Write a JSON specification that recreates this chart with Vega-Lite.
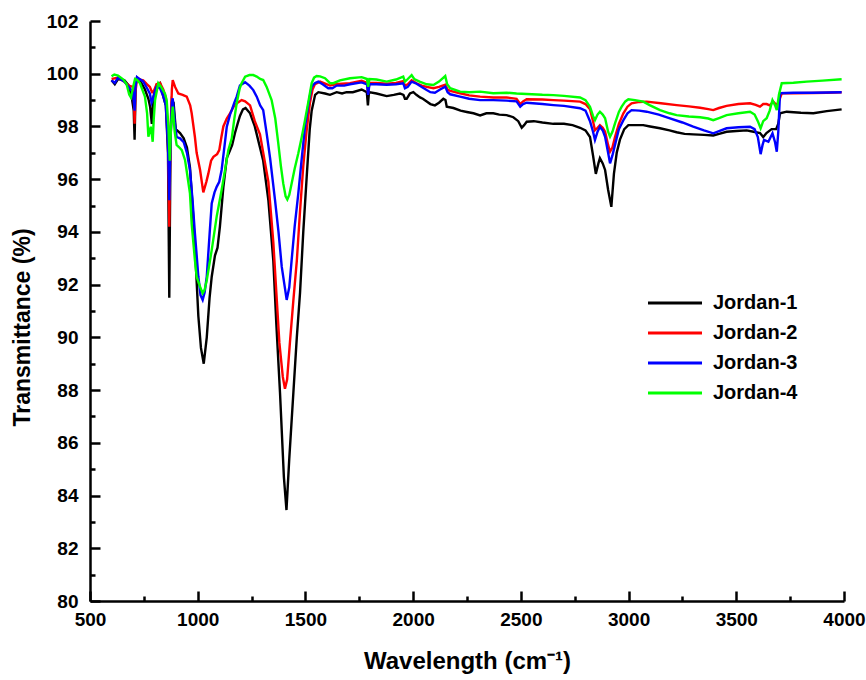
{
"$schema":"https://vega.github.io/schema/vega-lite/v6.json",
"width":754,"height":580,
"autosize":{"type":"none"},
"padding":{"left":90,"top":21,"right":22,"bottom":79},
"config":{"view":{"stroke":null},"font":"Liberation Sans",
"axis":{"domainColor":"#000","domainWidth":2.5,"tickColor":"#000","tickWidth":2.5,"grid":false,"labelFont":"Liberation Sans","labelFontWeight":"bold","labelFontSize":19,"labelColor":"#000","titleFont":"Liberation Sans","titleFontWeight":"bold","titleFontSize":22,"titleColor":"#000"},
"legend":{"labelFont":"Liberation Sans"}},
"datasets":{
"j1":[{"w":600,"t":99.75},{"w":615,"t":99.6},{"w":630,"t":99.8},{"w":660,"t":99.75},{"w":680,"t":99.55},{"w":694,"t":99.1},{"w":703,"t":98.6},{"w":707,"t":97.5},{"w":712,"t":99.6},{"w":718,"t":99.85},{"w":735,"t":99.7},{"w":755,"t":99.4},{"w":771,"t":99.05},{"w":779,"t":98.75},{"w":787,"t":98.1},{"w":794,"t":99.1},{"w":810,"t":99.6},{"w":825,"t":99.65},{"w":840,"t":99.15},{"w":852,"t":98.8},{"w":862,"t":97.0},{"w":868,"t":91.5},{"w":874,"t":97.5},{"w":880,"t":99.0},{"w":888,"t":98.9},{"w":898,"t":97.9},{"w":918,"t":97.75},{"w":935,"t":97.55},{"w":950,"t":97.2},{"w":964,"t":96.45},{"w":976,"t":95.0},{"w":987,"t":93.45},{"w":1003,"t":90.8},{"w":1015,"t":89.6},{"w":1028,"t":89.0},{"w":1042,"t":90.0},{"w":1055,"t":91.5},{"w":1065,"t":92.3},{"w":1080,"t":93.1},{"w":1092,"t":93.4},{"w":1103,"t":94.2},{"w":1119,"t":95.7},{"w":1135,"t":96.8},{"w":1150,"t":97.1},{"w":1160,"t":97.3},{"w":1173,"t":97.75},{"w":1185,"t":98.1},{"w":1196,"t":98.4},{"w":1210,"t":98.65},{"w":1222,"t":98.7},{"w":1243,"t":98.5},{"w":1265,"t":98.0},{"w":1289,"t":97.2},{"w":1304,"t":96.7},{"w":1328,"t":95.2},{"w":1351,"t":92.9},{"w":1365,"t":90.5},{"w":1382,"t":87.9},{"w":1400,"t":84.7},{"w":1412,"t":83.45},{"w":1425,"t":85.4},{"w":1444,"t":87.9},{"w":1460,"t":90.0},{"w":1475,"t":91.7},{"w":1490,"t":94.0},{"w":1506,"t":96.1},{"w":1520,"t":97.9},{"w":1529,"t":98.6},{"w":1545,"t":99.2},{"w":1560,"t":99.3},{"w":1591,"t":99.25},{"w":1614,"t":99.2},{"w":1645,"t":99.3},{"w":1670,"t":99.25},{"w":1691,"t":99.3},{"w":1720,"t":99.3},{"w":1761,"t":99.4},{"w":1785,"t":99.3},{"w":1790,"t":98.8},{"w":1795,"t":99.3},{"w":1830,"t":99.25},{"w":1877,"t":99.15},{"w":1910,"t":99.2},{"w":1939,"t":99.25},{"w":1955,"t":99.2},{"w":1962,"t":99.05},{"w":1970,"t":99.05},{"w":1985,"t":99.25},{"w":2001,"t":99.3},{"w":2015,"t":99.2},{"w":2032,"t":99.1},{"w":2045,"t":99.05},{"w":2063,"t":98.95},{"w":2080,"t":98.85},{"w":2101,"t":98.8},{"w":2120,"t":98.9},{"w":2140,"t":99.05},{"w":2150,"t":99.0},{"w":2156,"t":98.75},{"w":2187,"t":98.7},{"w":2220,"t":98.6},{"w":2249,"t":98.55},{"w":2280,"t":98.5},{"w":2311,"t":98.42},{"w":2340,"t":98.5},{"w":2372,"t":98.5},{"w":2400,"t":98.45},{"w":2434,"t":98.43},{"w":2465,"t":98.35},{"w":2488,"t":98.2},{"w":2504,"t":97.95},{"w":2515,"t":98.05},{"w":2527,"t":98.18},{"w":2560,"t":98.2},{"w":2600,"t":98.15},{"w":2651,"t":98.1},{"w":2700,"t":98.1},{"w":2740,"t":98.05},{"w":2775,"t":97.95},{"w":2800,"t":97.85},{"w":2821,"t":97.6},{"w":2835,"t":96.9},{"w":2848,"t":96.2},{"w":2860,"t":96.6},{"w":2867,"t":96.8},{"w":2880,"t":96.6},{"w":2891,"t":96.35},{"w":2905,"t":95.6},{"w":2920,"t":94.95},{"w":2932,"t":96.2},{"w":2945,"t":97.0},{"w":2960,"t":97.5},{"w":2980,"t":97.9},{"w":2999,"t":98.05},{"w":3030,"t":98.05},{"w":3068,"t":98.05},{"w":3100,"t":98.0},{"w":3146,"t":97.93},{"w":3190,"t":97.85},{"w":3223,"t":97.78},{"w":3260,"t":97.72},{"w":3300,"t":97.7},{"w":3350,"t":97.68},{"w":3393,"t":97.66},{"w":3420,"t":97.72},{"w":3455,"t":97.8},{"w":3500,"t":97.83},{"w":3548,"t":97.85},{"w":3580,"t":97.8},{"w":3610,"t":97.75},{"w":3625,"t":97.6},{"w":3640,"t":97.75},{"w":3664,"t":97.9},{"w":3685,"t":97.9},{"w":3695,"t":98.1},{"w":3703,"t":98.5},{"w":3734,"t":98.56},{"w":3800,"t":98.52},{"w":3858,"t":98.5},{"w":3920,"t":98.58},{"w":3989,"t":98.65}],
"j2":[{"w":600,"t":99.8},{"w":630,"t":99.85},{"w":660,"t":99.7},{"w":680,"t":99.55},{"w":699,"t":99.5},{"w":704,"t":99.0},{"w":707,"t":98.1},{"w":711,"t":99.3},{"w":718,"t":99.8},{"w":747,"t":99.75},{"w":765,"t":99.6},{"w":778,"t":99.5},{"w":788,"t":99.3},{"w":794,"t":99.3},{"w":809,"t":99.6},{"w":825,"t":99.65},{"w":840,"t":99.4},{"w":852,"t":99.1},{"w":862,"t":97.5},{"w":868,"t":94.2},{"w":873,"t":97.5},{"w":880,"t":99.4},{"w":884,"t":99.76},{"w":895,"t":99.5},{"w":910,"t":99.25},{"w":930,"t":99.2},{"w":949,"t":99.13},{"w":965,"t":98.8},{"w":972,"t":98.5},{"w":987,"t":97.6},{"w":995,"t":97.0},{"w":1011,"t":96.35},{"w":1026,"t":95.5},{"w":1040,"t":95.9},{"w":1049,"t":96.2},{"w":1062,"t":96.7},{"w":1073,"t":96.85},{"w":1090,"t":96.95},{"w":1100,"t":97.1},{"w":1110,"t":97.6},{"w":1119,"t":98.0},{"w":1135,"t":98.3},{"w":1150,"t":98.5},{"w":1170,"t":98.8},{"w":1185,"t":98.9},{"w":1204,"t":99.0},{"w":1220,"t":98.95},{"w":1243,"t":98.8},{"w":1265,"t":98.2},{"w":1289,"t":97.7},{"w":1304,"t":97.0},{"w":1328,"t":95.9},{"w":1351,"t":93.6},{"w":1365,"t":91.7},{"w":1379,"t":89.8},{"w":1395,"t":88.5},{"w":1405,"t":88.05},{"w":1415,"t":88.4},{"w":1428,"t":89.8},{"w":1444,"t":91.4},{"w":1460,"t":92.9},{"w":1475,"t":94.8},{"w":1490,"t":96.5},{"w":1505,"t":97.8},{"w":1521,"t":98.9},{"w":1533,"t":99.4},{"w":1544,"t":99.6},{"w":1568,"t":99.7},{"w":1583,"t":99.65},{"w":1614,"t":99.55},{"w":1640,"t":99.6},{"w":1670,"t":99.62},{"w":1707,"t":99.64},{"w":1761,"t":99.73},{"w":1786,"t":99.65},{"w":1791,"t":99.25},{"w":1797,"t":99.65},{"w":1830,"t":99.65},{"w":1877,"t":99.62},{"w":1920,"t":99.65},{"w":1954,"t":99.72},{"w":1962,"t":99.55},{"w":1975,"t":99.6},{"w":1993,"t":99.75},{"w":2016,"t":99.64},{"w":2040,"t":99.55},{"w":2063,"t":99.5},{"w":2094,"t":99.45},{"w":2120,"t":99.5},{"w":2149,"t":99.58},{"w":2160,"t":99.4},{"w":2172,"t":99.35},{"w":2218,"t":99.26},{"w":2260,"t":99.18},{"w":2311,"t":99.13},{"w":2372,"t":99.1},{"w":2434,"t":99.1},{"w":2480,"t":99.05},{"w":2497,"t":98.85},{"w":2510,"t":98.95},{"w":2527,"t":99.03},{"w":2600,"t":99.02},{"w":2651,"t":99.0},{"w":2700,"t":98.98},{"w":2775,"t":98.94},{"w":2800,"t":98.85},{"w":2821,"t":98.65},{"w":2835,"t":98.2},{"w":2844,"t":97.86},{"w":2856,"t":97.95},{"w":2867,"t":98.05},{"w":2880,"t":97.95},{"w":2891,"t":97.8},{"w":2905,"t":97.3},{"w":2914,"t":97.04},{"w":2925,"t":97.2},{"w":2937,"t":97.6},{"w":2955,"t":98.1},{"w":2976,"t":98.5},{"w":2995,"t":98.75},{"w":3014,"t":98.88},{"w":3050,"t":98.93},{"w":3084,"t":98.94},{"w":3150,"t":98.88},{"w":3223,"t":98.81},{"w":3280,"t":98.76},{"w":3332,"t":98.71},{"w":3370,"t":98.66},{"w":3393,"t":98.62},{"w":3420,"t":98.7},{"w":3455,"t":98.78},{"w":3510,"t":98.85},{"w":3564,"t":98.88},{"w":3590,"t":98.82},{"w":3610,"t":98.75},{"w":3625,"t":98.85},{"w":3641,"t":98.85},{"w":3655,"t":98.8},{"w":3672,"t":98.94},{"w":3688,"t":98.8},{"w":3700,"t":99.0},{"w":3711,"t":99.26},{"w":3765,"t":99.26},{"w":3850,"t":99.27},{"w":3920,"t":99.28},{"w":3989,"t":99.3}],
"j3":[{"w":600,"t":99.75},{"w":615,"t":99.65},{"w":630,"t":99.85},{"w":660,"t":99.7},{"w":680,"t":99.5},{"w":699,"t":99.3},{"w":704,"t":98.9},{"w":707,"t":98.6},{"w":711,"t":99.5},{"w":718,"t":99.87},{"w":747,"t":99.7},{"w":765,"t":99.45},{"w":778,"t":99.24},{"w":786,"t":98.9},{"w":791,"t":99.0},{"w":800,"t":99.3},{"w":809,"t":99.5},{"w":825,"t":99.45},{"w":840,"t":99.15},{"w":852,"t":98.8},{"w":862,"t":97.3},{"w":868,"t":95.2},{"w":873,"t":97.3},{"w":880,"t":98.9},{"w":884,"t":99.07},{"w":893,"t":98.2},{"w":902,"t":97.6},{"w":918,"t":97.55},{"w":935,"t":97.4},{"w":950,"t":97.0},{"w":964,"t":96.35},{"w":976,"t":95.2},{"w":987,"t":93.95},{"w":1003,"t":92.3},{"w":1013,"t":91.6},{"w":1023,"t":91.42},{"w":1032,"t":91.7},{"w":1042,"t":92.3},{"w":1055,"t":93.9},{"w":1065,"t":95.08},{"w":1078,"t":95.5},{"w":1088,"t":95.71},{"w":1100,"t":95.9},{"w":1111,"t":96.35},{"w":1125,"t":97.3},{"w":1135,"t":97.99},{"w":1150,"t":98.45},{"w":1158,"t":98.62},{"w":1170,"t":98.9},{"w":1181,"t":99.13},{"w":1196,"t":99.55},{"w":1220,"t":99.68},{"w":1240,"t":99.55},{"w":1258,"t":99.38},{"w":1274,"t":99.13},{"w":1290,"t":98.8},{"w":1304,"t":98.62},{"w":1320,"t":97.74},{"w":1336,"t":96.8},{"w":1359,"t":95.2},{"w":1375,"t":94.0},{"w":1390,"t":92.68},{"w":1413,"t":91.42},{"w":1425,"t":91.9},{"w":1436,"t":92.93},{"w":1450,"t":94.2},{"w":1467,"t":95.46},{"w":1483,"t":96.8},{"w":1498,"t":97.99},{"w":1515,"t":98.9},{"w":1529,"t":99.51},{"w":1545,"t":99.65},{"w":1560,"t":99.7},{"w":1580,"t":99.6},{"w":1606,"t":99.45},{"w":1625,"t":99.45},{"w":1645,"t":99.55},{"w":1680,"t":99.55},{"w":1707,"t":99.6},{"w":1761,"t":99.67},{"w":1786,"t":99.6},{"w":1791,"t":99.2},{"w":1797,"t":99.6},{"w":1830,"t":99.6},{"w":1877,"t":99.58},{"w":1920,"t":99.6},{"w":1954,"t":99.64},{"w":1962,"t":99.45},{"w":1975,"t":99.5},{"w":1993,"t":99.7},{"w":2016,"t":99.62},{"w":2040,"t":99.5},{"w":2063,"t":99.38},{"w":2080,"t":99.3},{"w":2101,"t":99.28},{"w":2125,"t":99.4},{"w":2149,"t":99.51},{"w":2160,"t":99.3},{"w":2172,"t":99.22},{"w":2218,"t":99.13},{"w":2260,"t":99.05},{"w":2311,"t":99.0},{"w":2372,"t":99.0},{"w":2434,"t":98.98},{"w":2480,"t":98.95},{"w":2497,"t":98.75},{"w":2510,"t":98.85},{"w":2527,"t":98.9},{"w":2600,"t":98.85},{"w":2651,"t":98.81},{"w":2700,"t":98.78},{"w":2775,"t":98.69},{"w":2800,"t":98.6},{"w":2821,"t":98.2},{"w":2835,"t":97.8},{"w":2844,"t":97.49},{"w":2856,"t":97.8},{"w":2867,"t":97.99},{"w":2880,"t":97.85},{"w":2891,"t":97.61},{"w":2905,"t":97.0},{"w":2914,"t":96.6},{"w":2925,"t":96.9},{"w":2937,"t":97.3},{"w":2955,"t":97.9},{"w":2976,"t":98.24},{"w":2995,"t":98.5},{"w":3014,"t":98.62},{"w":3050,"t":98.6},{"w":3084,"t":98.56},{"w":3140,"t":98.45},{"w":3192,"t":98.31},{"w":3250,"t":98.15},{"w":3300,"t":97.99},{"w":3350,"t":97.85},{"w":3393,"t":97.74},{"w":3420,"t":97.82},{"w":3455,"t":97.93},{"w":3510,"t":97.97},{"w":3564,"t":97.99},{"w":3585,"t":97.9},{"w":3600,"t":97.6},{"w":3613,"t":96.95},{"w":3622,"t":97.3},{"w":3629,"t":97.49},{"w":3649,"t":97.42},{"w":3668,"t":97.74},{"w":3680,"t":97.4},{"w":3688,"t":97.04},{"w":3695,"t":97.8},{"w":3703,"t":99.26},{"w":3765,"t":99.28},{"w":3850,"t":99.28},{"w":3920,"t":99.29},{"w":3989,"t":99.3}],
"j4":[{"w":600,"t":99.9},{"w":613,"t":99.97},{"w":630,"t":99.93},{"w":655,"t":99.78},{"w":670,"t":99.6},{"w":682,"t":99.21},{"w":690,"t":99.1},{"w":700,"t":99.5},{"w":709,"t":99.8},{"w":718,"t":99.77},{"w":732,"t":99.64},{"w":755,"t":99.13},{"w":765,"t":98.5},{"w":771,"t":97.61},{"w":777,"t":97.8},{"w":782,"t":97.99},{"w":787,"t":97.7},{"w":791,"t":97.42},{"w":796,"t":98.3},{"w":802,"t":99.0},{"w":817,"t":99.64},{"w":830,"t":99.5},{"w":848,"t":99.24},{"w":856,"t":99.0},{"w":864,"t":98.0},{"w":870,"t":96.7},{"w":876,"t":98.0},{"w":884,"t":98.75},{"w":893,"t":97.8},{"w":902,"t":97.3},{"w":915,"t":97.2},{"w":926,"t":97.1},{"w":941,"t":96.73},{"w":949,"t":96.3},{"w":964,"t":95.46},{"w":972,"t":94.3},{"w":987,"t":92.93},{"w":995,"t":92.3},{"w":1011,"t":91.92},{"w":1023,"t":91.67},{"w":1032,"t":91.8},{"w":1042,"t":92.17},{"w":1065,"t":93.31},{"w":1088,"t":94.58},{"w":1111,"t":95.59},{"w":1128,"t":96.4},{"w":1142,"t":97.1},{"w":1158,"t":97.55},{"w":1170,"t":98.3},{"w":1181,"t":98.88},{"w":1195,"t":99.45},{"w":1204,"t":99.64},{"w":1220,"t":99.89},{"w":1240,"t":99.95},{"w":1258,"t":99.95},{"w":1274,"t":99.89},{"w":1290,"t":99.8},{"w":1304,"t":99.76},{"w":1320,"t":99.5},{"w":1343,"t":99.0},{"w":1360,"t":98.3},{"w":1374,"t":97.36},{"w":1386,"t":96.5},{"w":1397,"t":95.84},{"w":1408,"t":95.35},{"w":1416,"t":95.23},{"w":1425,"t":95.4},{"w":1436,"t":95.84},{"w":1450,"t":96.4},{"w":1467,"t":96.98},{"w":1483,"t":97.6},{"w":1498,"t":98.24},{"w":1515,"t":99.0},{"w":1529,"t":99.64},{"w":1540,"t":99.85},{"w":1552,"t":99.91},{"w":1568,"t":99.9},{"w":1591,"t":99.83},{"w":1614,"t":99.64},{"w":1630,"t":99.64},{"w":1660,"t":99.75},{"w":1707,"t":99.83},{"w":1761,"t":99.87},{"w":1786,"t":99.8},{"w":1791,"t":99.5},{"w":1797,"t":99.8},{"w":1830,"t":99.78},{"w":1877,"t":99.7},{"w":1920,"t":99.78},{"w":1954,"t":99.89},{"w":1962,"t":99.7},{"w":1975,"t":99.8},{"w":1993,"t":99.95},{"w":2005,"t":99.8},{"w":2030,"t":99.7},{"w":2063,"t":99.6},{"w":2094,"t":99.57},{"w":2120,"t":99.7},{"w":2149,"t":99.91},{"w":2158,"t":99.6},{"w":2172,"t":99.45},{"w":2218,"t":99.32},{"w":2260,"t":99.3},{"w":2311,"t":99.32},{"w":2372,"t":99.26},{"w":2434,"t":99.28},{"w":2480,"t":99.25},{"w":2527,"t":99.23},{"w":2600,"t":99.2},{"w":2651,"t":99.19},{"w":2700,"t":99.16},{"w":2775,"t":99.1},{"w":2800,"t":99.0},{"w":2821,"t":98.75},{"w":2835,"t":98.4},{"w":2844,"t":98.24},{"w":2856,"t":98.45},{"w":2867,"t":98.56},{"w":2880,"t":98.45},{"w":2891,"t":98.31},{"w":2905,"t":97.8},{"w":2914,"t":97.61},{"w":2925,"t":97.8},{"w":2937,"t":98.12},{"w":2955,"t":98.55},{"w":2968,"t":98.75},{"w":2985,"t":98.95},{"w":2999,"t":99.03},{"w":3030,"t":99.0},{"w":3068,"t":98.94},{"w":3100,"t":98.8},{"w":3146,"t":98.62},{"w":3190,"t":98.5},{"w":3223,"t":98.43},{"w":3280,"t":98.38},{"w":3332,"t":98.35},{"w":3370,"t":98.3},{"w":3393,"t":98.24},{"w":3420,"t":98.32},{"w":3455,"t":98.43},{"w":3510,"t":98.5},{"w":3564,"t":98.56},{"w":3585,"t":98.45},{"w":3600,"t":98.2},{"w":3613,"t":97.93},{"w":3625,"t":98.2},{"w":3641,"t":98.31},{"w":3655,"t":98.6},{"w":3668,"t":99.0},{"w":3680,"t":98.8},{"w":3688,"t":98.62},{"w":3698,"t":99.2},{"w":3711,"t":99.64},{"w":3765,"t":99.66},{"w":3827,"t":99.7},{"w":3900,"t":99.74},{"w":3989,"t":99.79}]
},
"layer":[
{"encoding":{
"x":{"field":"w","type":"quantitative","scale":{"domain":[500,4000],"nice":false,"zero":false},"axis":{"orient":"bottom","values":[500,1000,1500,2000,2500,3000,3500,4000],"format":"d","tickSize":-10,"labelPadding":19,"title":"Wavelength (cm⁻¹)","titleFontSize":24,"titlePadding":20,"labelFlush":false}},
"y":{"field":"t","type":"quantitative","scale":{"domain":[80,102],"nice":false,"zero":false},"axis":{"orient":"left","values":[80,82,84,86,88,90,92,94,96,98,100,102],"format":"d","tickSize":-10,"labelPadding":22,"title":"Transmittance (%)","titleFontSize":23,"titlePadding":12,"titleY":306,"labelFlush":false}}},
"layer":[
{"data":{"name":"j1"},"mark":{"type":"line","strokeWidth":2.4},"encoding":{"color":{"datum":"Jordan-1","type":"nominal","scale":{"domain":["Jordan-1","Jordan-2","Jordan-3","Jordan-4"],"range":["#000000","#ff0000","#0000ff","#00ff00"]},"legend":{"orient":"none","legendX":575,"legendY":272,"title":null,"symbolType":"M-5.4,0H5.4","symbolSize":100,"symbolStrokeWidth":3,"labelFontSize":20,"labelFontWeight":"bold","labelColor":"#000","labelOffset":28,"rowPadding":10,"padding":0}}}},
{"data":{"name":"j2"},"mark":{"type":"line","strokeWidth":2.4},"encoding":{"color":{"datum":"Jordan-2","type":"nominal"}}},
{"data":{"name":"j3"},"mark":{"type":"line","strokeWidth":2.4},"encoding":{"color":{"datum":"Jordan-3","type":"nominal"}}},
{"data":{"name":"j4"},"mark":{"type":"line","strokeWidth":2.4},"encoding":{"color":{"datum":"Jordan-4","type":"nominal"}}}
]},
{"data":{"name":"j1"},"mark":{"type":"point","opacity":0},
"encoding":{
"x":{"field":"w","type":"quantitative","axis":{"orient":"bottom","values":[750,1250,1750,2250,2750,3250,3750],"tickSize":-5,"labels":false,"domain":false,"title":null}},
"y":{"field":"t","type":"quantitative","axis":{"orient":"left","values":[81,83,85,87,89,91,93,95,97,99,101],"tickSize":-5,"labels":false,"domain":false,"title":null}}}}
],
"resolve":{"axis":{"x":"independent","y":"independent"}}
}
